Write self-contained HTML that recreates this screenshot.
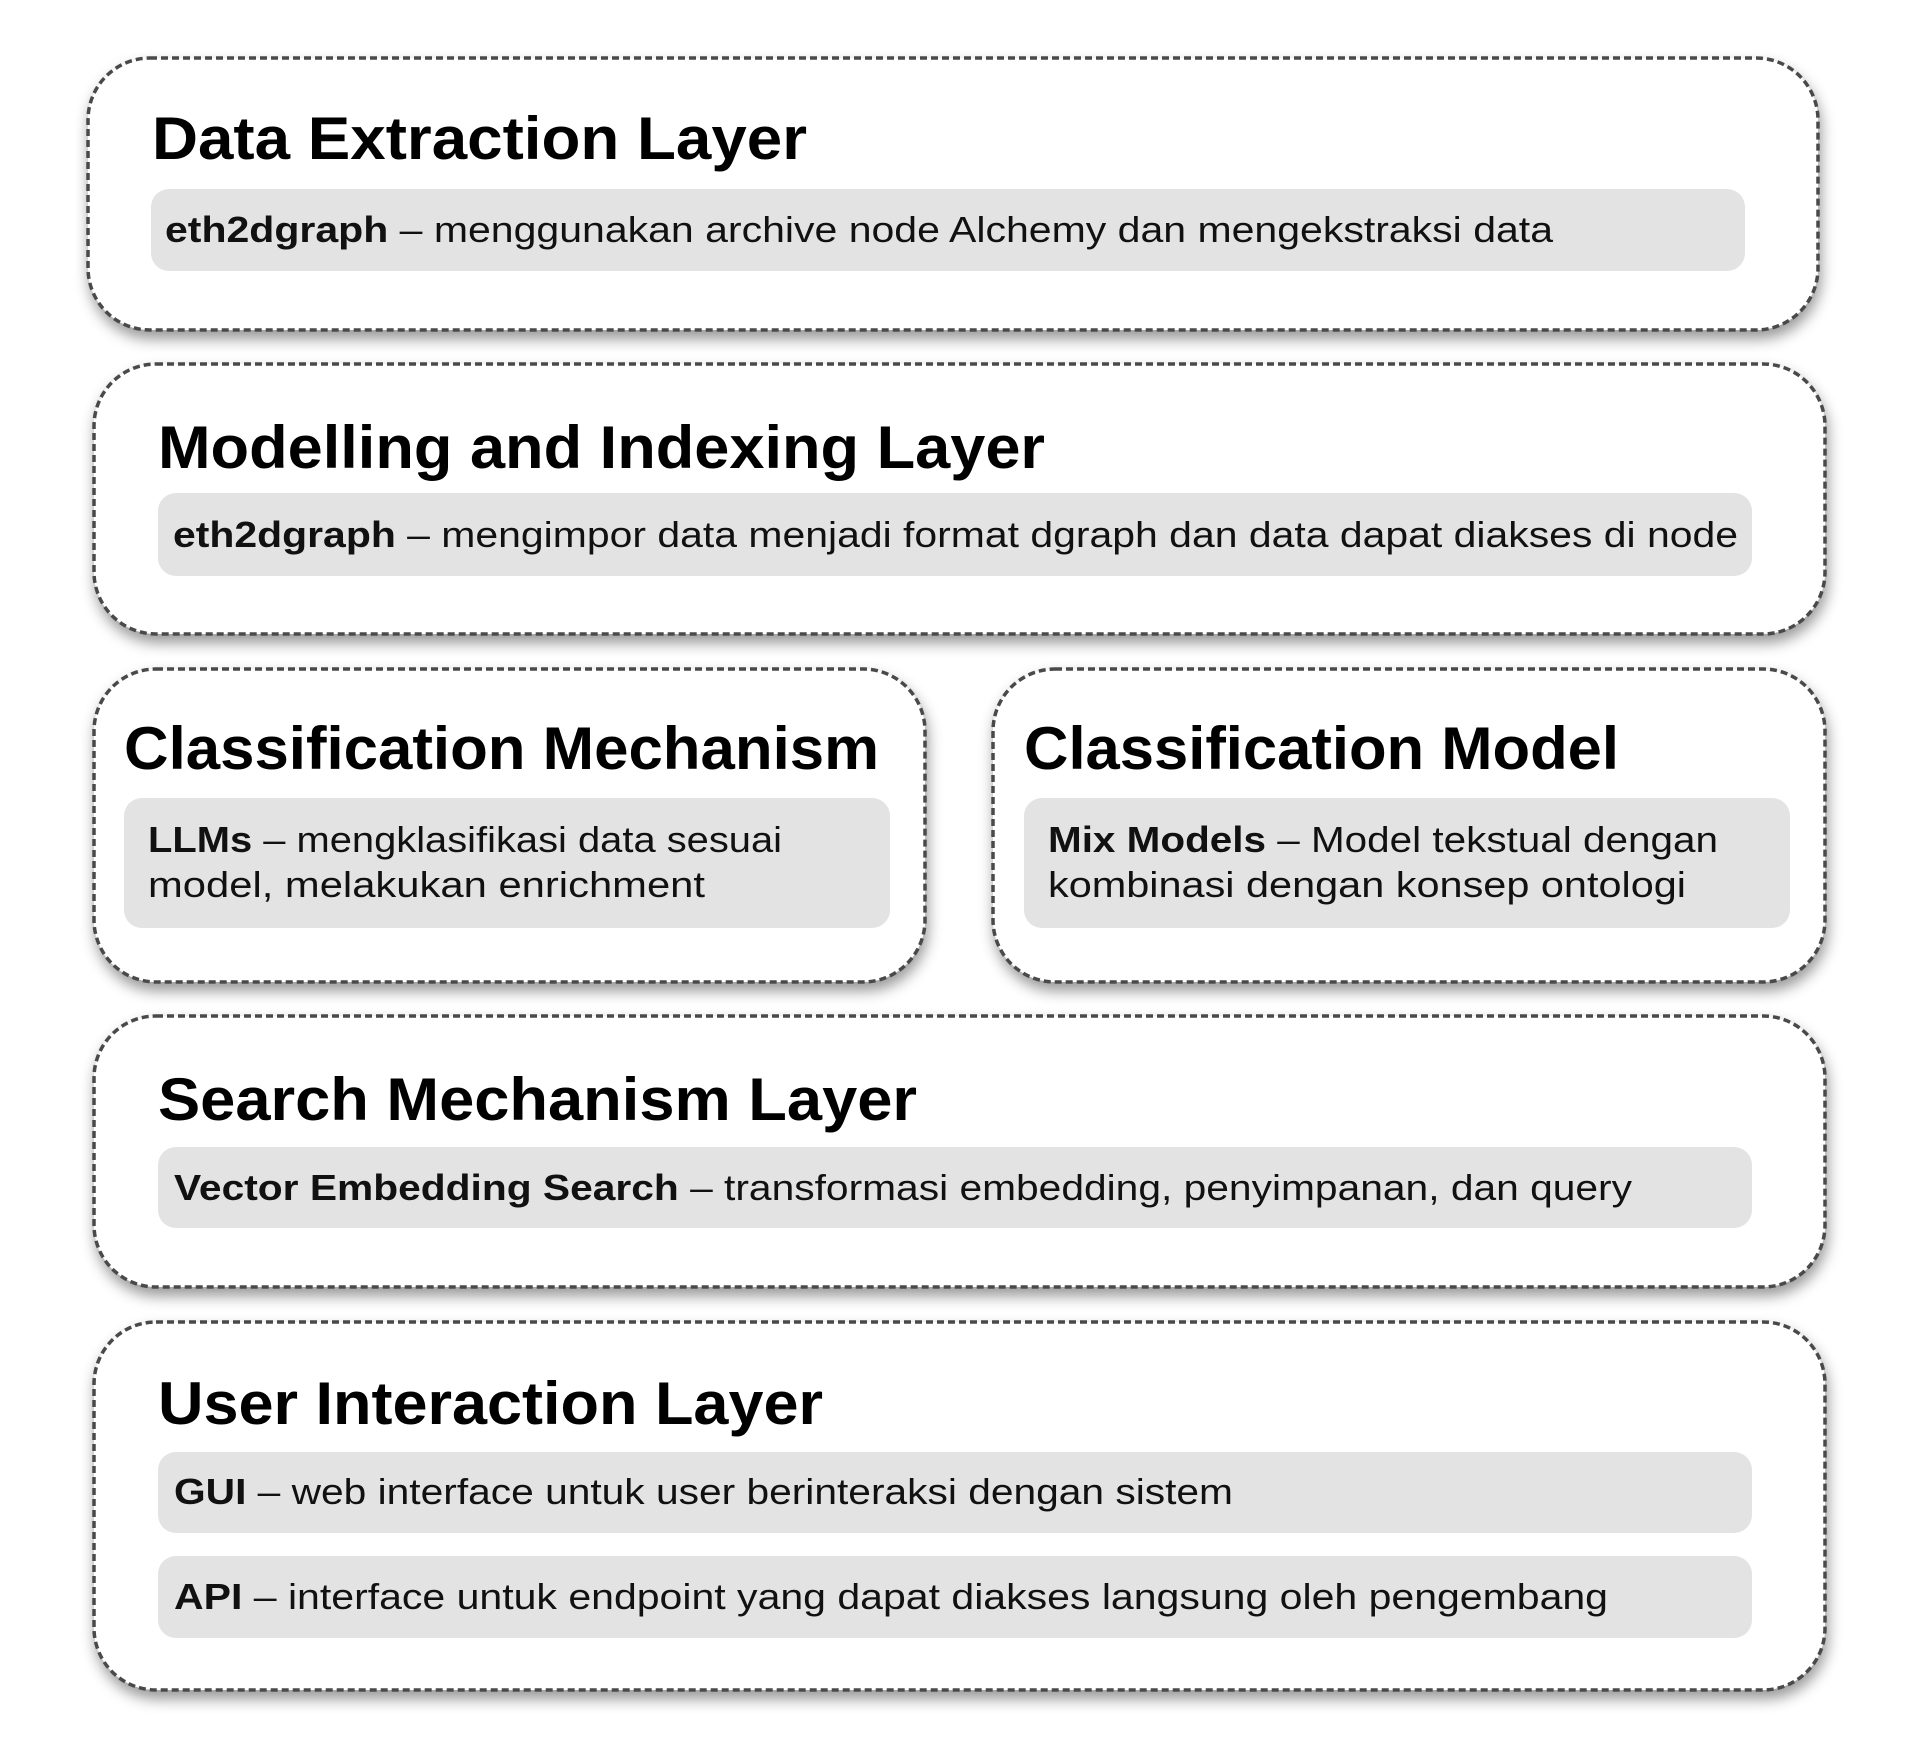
<!DOCTYPE html>
<html><head><meta charset="utf-8"><style>
html,body{margin:0;padding:0;background:#fff;}
svg{display:block;}
.t{font-family:"Liberation Sans",sans-serif;font-weight:bold;font-size:60px;fill:#000;}
.b{font-family:"Liberation Sans",sans-serif;font-size:36px;fill:#111;}
.box{fill:#fff;stroke:#4a4a4a;stroke-width:3.5;stroke-dasharray:7 4;}
.pill{fill:#e3e3e3;}
</style></head><body>
<svg width="1920" height="1758" viewBox="0 0 1920 1758" xmlns="http://www.w3.org/2000/svg">
<defs><filter id="sh" x="-5%" y="-10%" width="110%" height="130%"><feDropShadow dx="2" dy="8" stdDeviation="7" flood-color="#000" flood-opacity="0.4"/></filter></defs>

<rect class="box" filter="url(#sh)" x="88" y="58" width="1730" height="272" rx="62"/>
<text class="t" x="152" y="159" textLength="655" lengthAdjust="spacingAndGlyphs">Data Extraction Layer</text>
<rect class="pill" x="151" y="189" width="1594" height="82" rx="18"/>
<text class="b" x="165" y="242" textLength="1388" lengthAdjust="spacingAndGlyphs"><tspan font-weight="bold">eth2dgraph</tspan> – menggunakan archive node Alchemy dan mengekstraksi data</text>

<rect class="box" filter="url(#sh)" x="94" y="364" width="1731" height="270" rx="62"/>
<text class="t" x="158" y="468" textLength="887" lengthAdjust="spacingAndGlyphs">Modelling and Indexing Layer</text>
<rect class="pill" x="158" y="493" width="1594" height="83" rx="18"/>
<text class="b" x="173" y="547" textLength="1565" lengthAdjust="spacingAndGlyphs"><tspan font-weight="bold">eth2dgraph</tspan> – mengimpor data menjadi format dgraph dan data dapat diakses di node</text>

<rect class="box" filter="url(#sh)" x="94" y="669" width="831" height="313" rx="62"/>
<text class="t" x="124" y="769" textLength="755" lengthAdjust="spacingAndGlyphs">Classification Mechanism</text>
<rect class="pill" x="124" y="798" width="766" height="130" rx="18"/>
<text class="b" x="148" y="852" textLength="634" lengthAdjust="spacingAndGlyphs"><tspan font-weight="bold">LLMs</tspan> – mengklasifikasi data sesuai</text>
<text class="b" x="148" y="897" textLength="557" lengthAdjust="spacingAndGlyphs">model, melakukan enrichment</text>

<rect class="box" filter="url(#sh)" x="993" y="669" width="832" height="313" rx="62"/>
<text class="t" x="1024" y="769" textLength="595" lengthAdjust="spacingAndGlyphs">Classification Model</text>
<rect class="pill" x="1024" y="798" width="766" height="130" rx="18"/>
<text class="b" x="1048" y="852" textLength="670" lengthAdjust="spacingAndGlyphs"><tspan font-weight="bold">Mix Models</tspan> – Model tekstual dengan</text>
<text class="b" x="1048" y="897" textLength="638" lengthAdjust="spacingAndGlyphs">kombinasi dengan konsep ontologi</text>

<rect class="box" filter="url(#sh)" x="94" y="1016" width="1731" height="271" rx="62"/>
<text class="t" x="158" y="1120" textLength="759" lengthAdjust="spacingAndGlyphs">Search Mechanism Layer</text>
<rect class="pill" x="158" y="1147" width="1594" height="81" rx="18"/>
<text class="b" x="174" y="1200" textLength="1458" lengthAdjust="spacingAndGlyphs"><tspan font-weight="bold">Vector Embedding Search</tspan> – transformasi embedding, penyimpanan, dan query</text>

<rect class="box" filter="url(#sh)" x="94" y="1322" width="1731" height="368" rx="62"/>
<text class="t" x="158" y="1424" textLength="665" lengthAdjust="spacingAndGlyphs">User Interaction Layer</text>
<rect class="pill" x="158" y="1452" width="1594" height="81" rx="18"/>
<text class="b" x="174" y="1504" textLength="1059" lengthAdjust="spacingAndGlyphs"><tspan font-weight="bold">GUI</tspan> – web interface untuk user berinteraksi dengan sistem</text>
<rect class="pill" x="158" y="1556" width="1594" height="82" rx="18"/>
<text class="b" x="174" y="1609" textLength="1434" lengthAdjust="spacingAndGlyphs"><tspan font-weight="bold">API</tspan> – interface untuk endpoint yang dapat diakses langsung oleh pengembang</text>
</svg>
</body></html>
